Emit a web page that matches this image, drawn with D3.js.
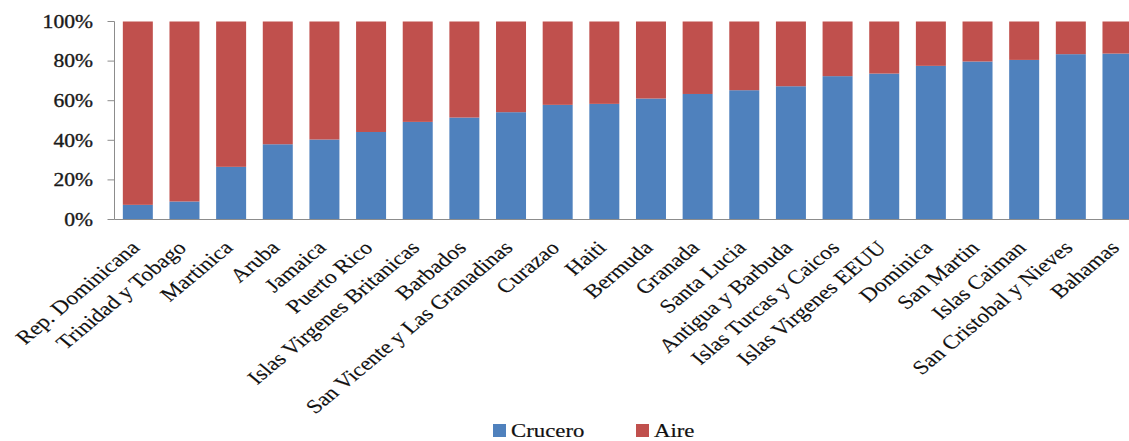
<!DOCTYPE html>
<html>
<head>
<meta charset="utf-8">
<script src="https://cdn.jsdelivr.net/npm/d3@7"></script>
<style>
  body { margin: 0; background: #fff; }
</style>
</head>
<body>
<script>
// data (percent of visitors)
var paises = ["Rep. Dominicana", "Trinidad y Tobago", "Martinica", "Aruba", "Jamaica", "Puerto Rico",
  "Islas Virgenes Britanicas", "Barbados", "San Vicente y Las Granadinas", "Curazao", "Haiti", "Bermuda",
  "Granada", "Santa Lucia", "Antigua y Barbuda", "Islas Turcas y Caicos", "Islas Virgenes EEUU",
  "Dominica", "San Martin", "Islas Caiman", "San Cristobal y Nieves", "Bahamas"];
var crucero = [7.4, 9.1, 26.6, 38.0, 40.4, 44.2, 49.3, 51.5, 54.2, 57.9, 58.4, 61.1,
  63.4, 65.3, 67.3, 72.4, 73.7, 77.6, 79.8, 80.6, 83.5, 83.8];
var aire = [92.6, 90.9, 73.4, 62.0, 59.6, 55.8, 50.7, 48.5, 45.8, 42.1, 41.6, 38.9,
  36.6, 34.7, 32.7, 27.6, 26.3, 22.4, 20.2, 19.4, 16.5, 16.2];
var series = ["Crucero", "Aire"];
var yTicks = [0, 20, 40, 60, 80, 100];

var width = 1129, height = 441;
var stretch = 1.2; // text in the picture is a bit wider than tall
var serif = "'Liberation Serif', 'Times New Roman', Times, serif";

var svg = d3.select("body").append("svg")
  .attr("width", width)
  .attr("height", height);

// x / y scales
var x0 = 114.5, step = 46.65;
var x = d3.scaleBand()
  .domain(paises)
  .range([x0, x0 + step * paises.length])
  .paddingInner(0.357)
  .paddingOuter(0.357 / 2);

var y = d3.scaleLinear()
  .domain([0, 100])
  .range([219.5, 21.5]);

var color = d3.scaleOrdinal()
  .domain(series)
  .range(["#4F81BD", "#C0504D"]);

// stack table built from the arrays
var rows = paises.map(function (p, i) {
  return { pais: p, Crucero: crucero[i], Aire: aire[i] };
});
var stacked = d3.stack().keys(series)(rows);

svg.append("g")
  .selectAll("g")
  .data(stacked)
  .enter().append("g")
  .attr("fill", function (d) { return color(d.key); })
  .selectAll("rect")
  .data(function (d) { return d; })
  .enter().append("rect")
  .attr("x", function (d) { return x(d.data.pais); })
  .attr("y", function (d) { return y(d[1]); })
  .attr("width", x.bandwidth())
  .attr("height", function (d) { return y(d[0]) - y(d[1]); });

// y axis line and ticks
var axisColor = "#8c8c8c";
svg.append("line")
  .attr("x1", x0).attr("x2", x0)
  .attr("y1", y(0)).attr("y2", y(100))
  .attr("stroke", axisColor);
svg.append("line")
  .attr("x1", x0).attr("x2", width)
  .attr("y1", y(0)).attr("y2", y(0))
  .attr("stroke", axisColor);
svg.selectAll(".ytick")
  .data(yTicks)
  .enter().append("line")
  .attr("class", "ytick")
  .attr("x1", x0 - 7).attr("x2", x0)
  .attr("y1", function (d) { return y(d); })
  .attr("y2", function (d) { return y(d); })
  .attr("stroke", axisColor);

svg.selectAll(".ylabel")
  .data(yTicks)
  .enter().append("text")
  .attr("class", "ylabel")
  .attr("transform", function (d) { return "translate(93," + y(d) + ") scale(" + stretch + ",1)"; })
  .attr("dy", "0.35em")
  .attr("text-anchor", "end")
  .attr("font-family", serif)
  .attr("font-size", 18)
  .attr("fill", "#1a1a1a")
  .attr("stroke", "#1a1a1a")
  .attr("stroke-width", 0.35)
  .text(function (d) { return d + "%"; });

// category labels, rotated
svg.selectAll(".xlabel")
  .data(paises)
  .enter().append("text")
  .attr("class", "xlabel")
  .attr("transform", function (d) {
    var cx = x(d) + x.bandwidth() / 2;
    return "translate(" + (cx + 3) + ",249) scale(" + stretch + ",1) rotate(-45)";
  })
  .attr("text-anchor", "end")
  .attr("font-family", serif)
  .attr("font-size", 19.5)
  .attr("fill", "#111")
  .attr("stroke", "#111")
  .attr("stroke-width", 0.15)
  .text(function (d) { return d; });

// legend
var legendX = [493, 636];
var legend = svg.selectAll(".legend")
  .data(series)
  .enter().append("g")
  .attr("class", "legend")
  .attr("transform", function (d, i) { return "translate(" + legendX[i] + ",424)"; });

legend.append("rect")
  .attr("width", 13)
  .attr("height", 13)
  .attr("fill", function (d) { return color(d); });

legend.append("text")
  .attr("transform", "translate(18,13) scale(" + stretch + ",1)")
  .attr("font-family", serif)
  .attr("font-size", 19)
  .attr("fill", "#111")
  .attr("stroke", "#111")
  .attr("stroke-width", 0.2)
  .text(function (d) { return d; });
</script>
</body>
</html>
